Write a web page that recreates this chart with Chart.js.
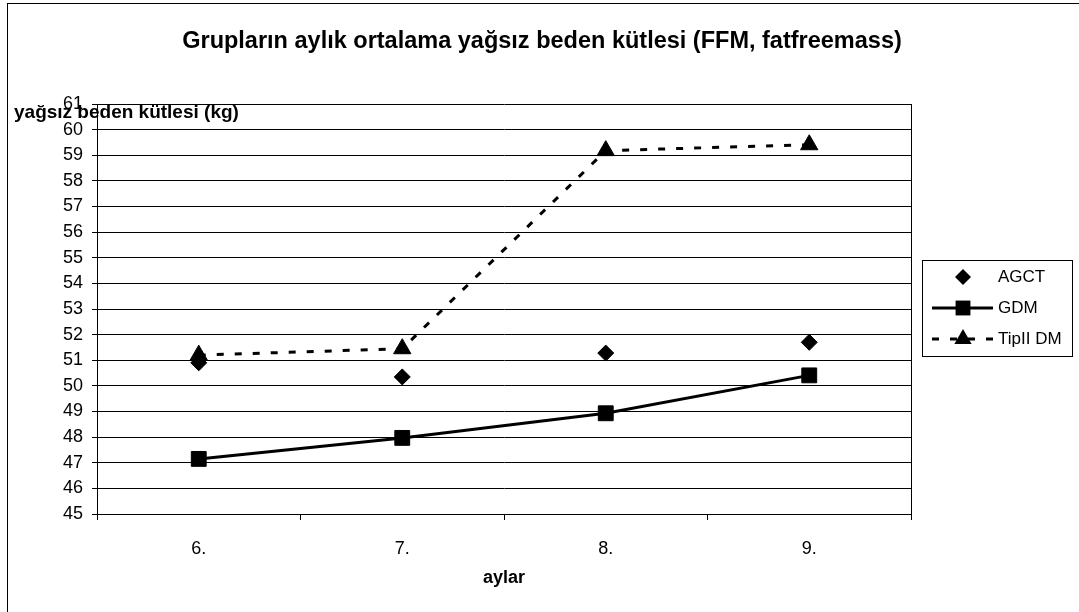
<!DOCTYPE html>
<html>
<head>
<meta charset="utf-8">
<script src="https://cdn.jsdelivr.net/npm/chart.js@4.4.0/dist/chart.umd.min.js"></script>
<style>
  html, body { margin: 0; padding: 0; background: #fff; overflow: hidden; }
  #frame { position: absolute; left: 7px; top: 3px; width: 1200px; height: 800px; border: 1px solid #000; }
  #wrap { position: absolute; left: 0; top: 0; width: 1079px; height: 612px; }
</style>
</head>
<body>
<div id="frame"></div>
<div id="wrap"><canvas id="chart" width="1079" height="612"></canvas></div>
<script>
const months = ["6.", "7.", "8.", "9."];
const agct = [50.9, 50.35, 51.28, 51.7];
const gdm = [47.15, 47.97, 48.93, 50.41];
const tipII = [51.2, 51.45, 59.18, 59.41];
const seriesNames = ["AGCT", "GDM", "TipII DM"];
const yMin = 45;
const yMax = 61;
const yStep = 1;

const FONT = "Arial, 'Liberation Sans', sans-serif";
const TITLE = "Grupların aylık ortalama yağsız beden kütlesi (FFM, fatfreemass)";

function marker(ctx, style, x, y, r) {
  ctx.beginPath();
  if (style === "rectRot") {
    ctx.moveTo(x, y - r); ctx.lineTo(x + r, y); ctx.lineTo(x, y + r); ctx.lineTo(x - r, y);
  } else if (style === "rect") {
    const s = r * Math.SQRT1_2;
    ctx.rect(x - s, y - s, 2 * s, 2 * s);
  } else {
    ctx.moveTo(x, y - r);
    ctx.lineTo(x + r * 0.866, y + r * 0.5);
    ctx.lineTo(x - r * 0.866, y + r * 0.5);
  }
  ctx.closePath();
  ctx.fill();
}

// chart title, axis title at top-left, plot frame right edge and boxed legend
const extras = {
  id: "extras",
  beforeDatasetsDraw(chart) {
    const { ctx, chartArea: a } = chart;
    ctx.save();
    ctx.strokeStyle = "#000";
    ctx.lineWidth = 1;
    ctx.beginPath();
    const xr = Math.round(a.right) + 0.5;
    ctx.moveTo(xr, a.top);
    ctx.lineTo(xr, a.bottom);
    ctx.stroke();
    ctx.restore();
  },
  afterDraw(chart) {
    const ctx = chart.ctx;
    ctx.save();
    ctx.fillStyle = "#000";
    ctx.textBaseline = "middle";

    ctx.font = "bold 23.5px " + FONT;
    ctx.textAlign = "center";
    ctx.fillText(TITLE, 542, 42);

    ctx.font = "bold 19px " + FONT;
    ctx.textAlign = "left";
    ctx.fillText("yağsız beden kütlesi (kg)", 14, 113);

    // legend
    ctx.strokeStyle = "#000";
    ctx.lineWidth = 1;
    ctx.strokeRect(922.5, 260.5, 150, 96);
    const rows = [277, 308, 339];
    const styles = ["rectRot", "rect", "triangle"];
    const sizes = [8, 10.5, 10];
    ctx.font = "17px " + FONT;
    rows.forEach((y, i) => {
      if (i > 0) {
        ctx.save();
        ctx.lineWidth = 3;
        if (i === 2) ctx.setLineDash([7, 11]);
        ctx.beginPath();
        ctx.moveTo(932, y);
        ctx.lineTo(993, y);
        ctx.stroke();
        ctx.restore();
      }
      marker(ctx, styles[i], 963, y, sizes[i]);
      ctx.fillText(seriesNames[i], 998, y);
    });
    ctx.restore();
  }
};

new Chart(document.getElementById("chart"), {
  type: "line",
  data: {
    labels: months,
    datasets: [
      {
        label: seriesNames[0],
        data: agct,
        showLine: false,
        pointStyle: "rectRot",
        pointRadius: 8,
        pointBorderWidth: 1,
        pointBackgroundColor: "#000",
        pointBorderColor: "#000",
        borderColor: "#000",
        backgroundColor: "#000"
      },
      {
        label: seriesNames[1],
        data: gdm,
        borderColor: "#000",
        backgroundColor: "#000",
        borderWidth: 3,
        tension: 0,
        pointStyle: "rect",
        pointRadius: 10.5,
        pointBorderWidth: 1,
        pointBackgroundColor: "#000",
        pointBorderColor: "#000"
      },
      {
        label: seriesNames[2],
        data: tipII,
        borderColor: "#000",
        backgroundColor: "#000",
        borderWidth: 3,
        borderDash: [7, 11],
        tension: 0,
        pointStyle: "triangle",
        pointRadius: 10,
        pointBorderWidth: 1,
        pointBackgroundColor: "#000",
        pointBorderColor: "#000"
      }
    ]
  },
  options: {
    responsive: false,
    animation: false,
    layout: { padding: { left: 0, right: 168, top: 104, bottom: 0 } },
    plugins: {
      legend: { display: false },
      tooltip: { enabled: false },
      title: { display: false }
    },
    scales: {
      x: {
        offset: true,
        grid: { offset: true, drawOnChartArea: false, drawTicks: true, tickLength: 6, color: "#000" },
        border: { color: "#000", width: 1 },
        ticks: { color: "#000", font: { family: FONT, size: 18 }, padding: 18, maxRotation: 0 },
        title: {
          display: true,
          text: "aylar",
          color: "#000",
          font: { family: FONT, size: 18, weight: "bold" },
          padding: { top: 0, bottom: 23 }
        },
        afterFit: (s) => { s.height = 98; }
      },
      y: {
        min: yMin,
        max: yMax,
        ticks: { stepSize: yStep, color: "#000", font: { family: FONT, size: 18 }, padding: 9 },
        grid: { color: "#000", tickLength: 5, lineWidth: 1 },
        border: { color: "#000", width: 1 },
        afterFit: (s) => { s.width = 97; }
      }
    }
  },
  plugins: [extras]
});
</script>
</body>
</html>
